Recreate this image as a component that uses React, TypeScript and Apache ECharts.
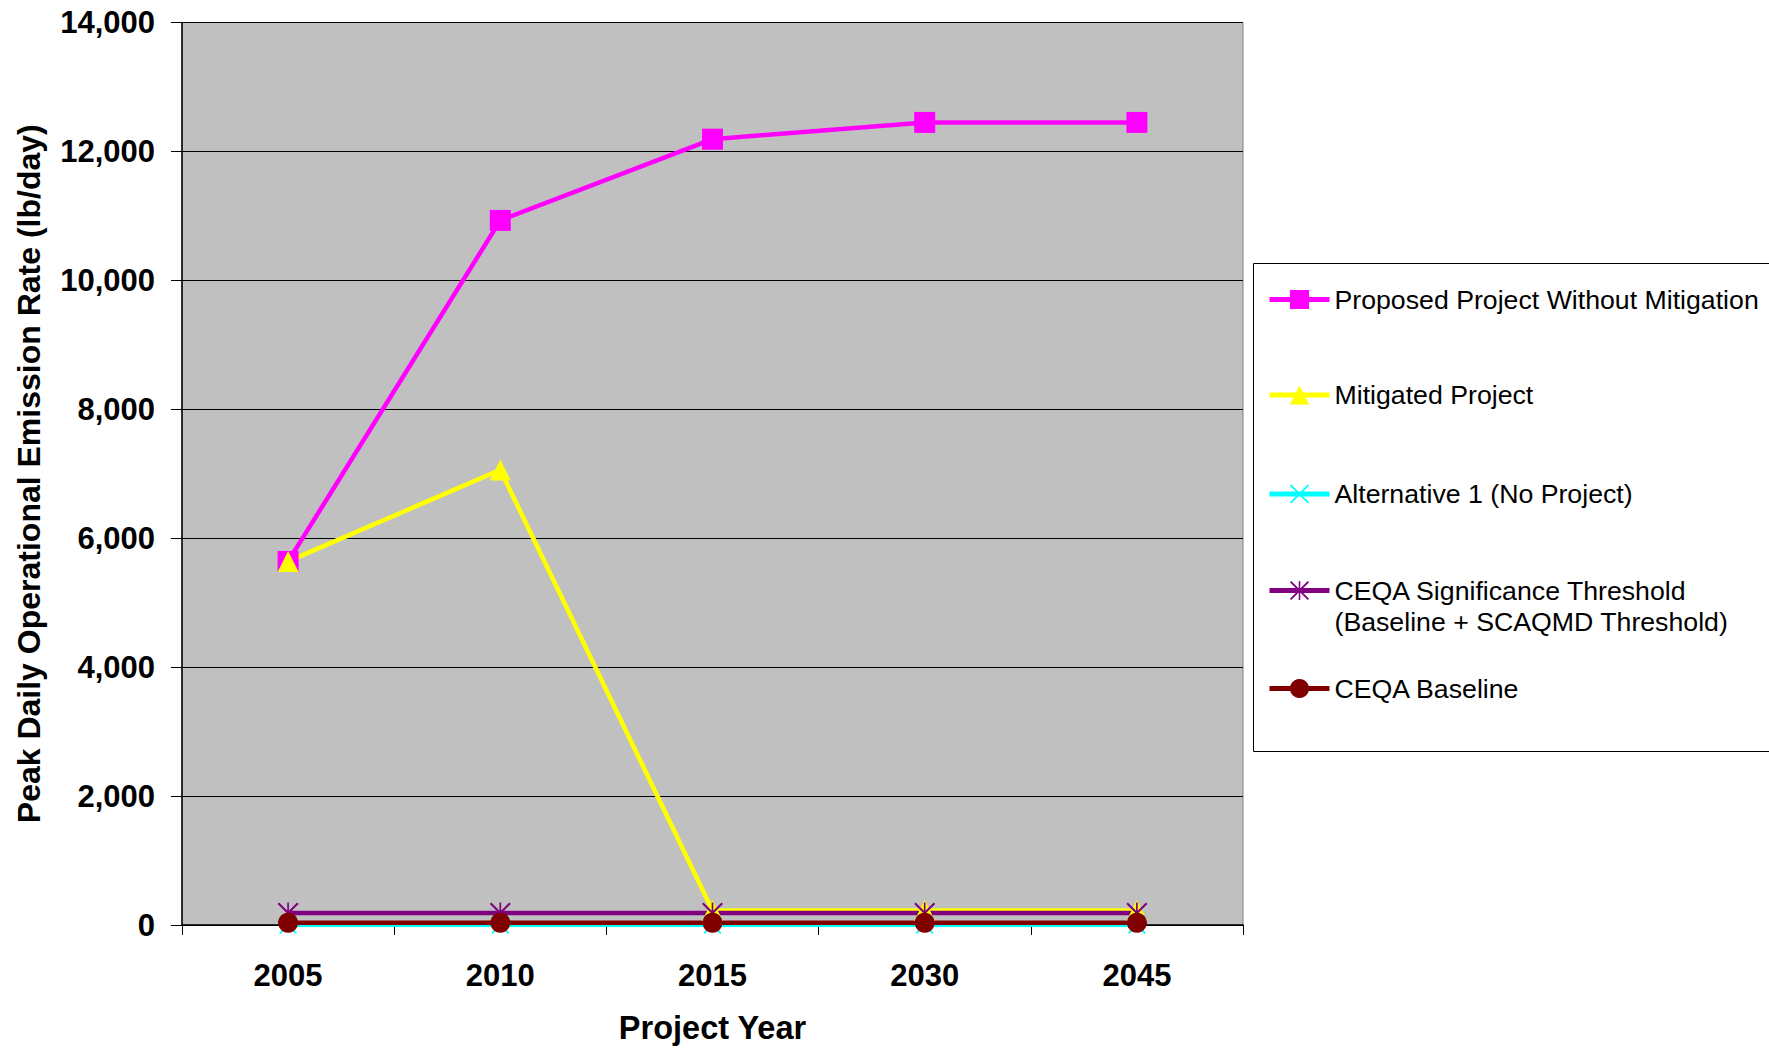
import React, { useEffect, useRef } from "react";
import * as echarts from "echarts";

// Project years on the category axis
const years = ["2005", "2010", "2015", "2030", "2045"];

// Peak daily operational emissions, lb/day
const proposedNoMitigation = [5640, 10930, 12190, 12450, 12450];
const mitigatedProject = [5640, 7060, 225, 225, 225];
const alternativeNoProject = [0, 0, 0, 0, 0];
const significanceThreshold = [185, 185, 185, 185, 185];
const ceqaBaseline = [35, 35, 35, 35, 35];

const seriesNames = [
  "Proposed Project Without Mitigation",
  "Mitigated Project",
  "Alternative 1 (No Project)",
  "CEQA Significance Threshold\n(Baseline + SCAQMD Threshold)",
  "CEQA Baseline",
];

const FONT = 'Arial, "Liberation Sans", Helvetica, sans-serif';

// Marker shapes drawn as filled thin bars inside a 20x20 box
const xMark = "path://M0 1.4L1.4 0L20 18.6L18.6 20ZM18.6 0L20 1.4L1.4 20L0 18.6Z";
const starMark =
  "path://M9.2 0H10.8V20H9.2ZM0 1.4L1.4 0L20 18.6L18.6 20ZM18.6 0L20 1.4L1.4 20L0 18.6Z";

export default function App() {
  const ref = useRef<HTMLDivElement>(null);

  useEffect(() => {
    if (!ref.current) return;
    const chart = echarts.init(ref.current, undefined, { renderer: "svg" });

    const lineSeries = (
      name: string,
      data: number[],
      color: string,
      symbol: string,
      symbolSize: number
    ) => ({
      name,
      type: "line",
      data,
      symbol,
      symbolSize,
      showAllSymbol: true,
      lineStyle: { color, width: 4.5 },
      itemStyle: { color, borderWidth: 0 },
      emphasis: { disabled: true },
    });

    const legendCommon = {
      orient: "vertical",
      left: 1267,
      padding: 0,
      itemWidth: 60,
      itemHeight: 24,
      selectedMode: false,
      lineStyle: { width: 5 },
      textStyle: {
        fontFamily: FONT,
        fontSize: 26.7,
        color: "#000",
        lineHeight: 31,
      },
    };

    // Top edge of each legend block
    const legendTops = [284, 379.5, 478.5, 544, 673];

    const option = {
      animation: false,
      backgroundColor: "#fff",
      textStyle: { fontFamily: FONT },
      grid: {
        left: 182,
        top: 22.5,
        width: 1061,
        height: 904,
        show: true,
        backgroundColor: "#C0C0C0",
        borderColor: "#808080",
        borderWidth: 1,
      },
      graphic: [
        {
          type: "rect",
          z: 1,
          shape: { x: 1253.5, y: 263.5, width: 600, height: 488 },
          style: { fill: "#fff", stroke: "#000", lineWidth: 1 },
        },
      ],
      legend: legendTops.map((top, i) => {
        const entry: any = { ...legendCommon, top, data: [seriesNames[i]] };
        if (i === 3) {
          // leading blank line keeps the marker level with the first text line
          entry.formatter = (name: string) => "\n" + name;
        }
        return entry;
      }),
      xAxis: {
        type: "category",
        data: years,
        boundaryGap: true,
        name: "Project Year",
        nameLocation: "middle",
        nameGap: 86,
        nameTextStyle: { fontFamily: FONT, fontSize: 32.5, fontWeight: "bold", color: "#000" },
        axisLine: { show: true, lineStyle: { color: "#000", width: 1.5 } },
        axisTick: { show: true, length: 10, lineStyle: { color: "#000" } },
        axisLabel: { fontFamily: FONT, fontSize: 31, fontWeight: "bold", color: "#000", margin: 35 },
        splitLine: { show: false },
      },
      yAxis: {
        type: "value",
        min: 0,
        max: 14000,
        interval: 2000,
        name: "Peak Daily Operational Emission Rate (lb/day)",
        nameLocation: "middle",
        nameGap: 137,
        nameTextStyle: { fontFamily: FONT, fontSize: 32, fontWeight: "bold", color: "#000" },
        axisLine: { show: true, lineStyle: { color: "#000", width: 1.5 } },
        axisTick: { show: true, length: 11, lineStyle: { color: "#000" } },
        axisLabel: {
          fontFamily: FONT,
          fontSize: 31,
          fontWeight: "bold",
          color: "#000",
          margin: 27,
          formatter: (v: number) => v.toLocaleString("en-US"),
        },
        splitLine: { show: true, lineStyle: { color: "#000", width: 1 } },
      },
      series: [
        lineSeries(seriesNames[0], proposedNoMitigation, "#FF00FF", "rect", 21),
        lineSeries(seriesNames[1], mitigatedProject, "#FFFF00", "triangle", 21),
        lineSeries(seriesNames[2], alternativeNoProject, "#00FFFF", xMark, 18),
        lineSeries(seriesNames[3], significanceThreshold, "#800080", starMark, 21),
        lineSeries(seriesNames[4], ceqaBaseline, "#800000", "circle", 20),
      ],
    };

    chart.setOption(option as any);
    return () => chart.dispose();
  }, []);

  return (
    <div
      ref={ref}
      style={{ position: "fixed", left: 0, top: 0, width: 1769, height: 1049 }}
    />
  );
}
